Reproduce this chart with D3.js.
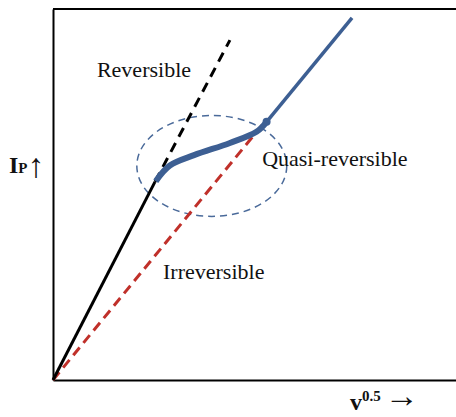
<!DOCTYPE html>
<html>
<head>
<meta charset="utf-8">
<script src="https://cdn.jsdelivr.net/npm/d3@7"></script>
<style>
  html, body { margin: 0; padding: 0; background: #fff; }
  svg { display: block; }
  text { font-family: "Liberation Serif", "Times New Roman", serif; fill: #111; }
  .arrow { font-weight: normal; }
</style>
</head>
<body>
<svg id="chart" width="456" height="417"></svg>
<script>
// Peak current vs. square root of scan rate, in arbitrary units
const reversibleSolid  = [[0, 0], [2.53, 5.34]];
const reversibleDashed = [[2.53, 5.34], [4.39, 9.16]];
const irreversible     = [[0, 0], [5.19, 6.87]];
const quasiCurve       = [[2.55, 5.36], [2.90, 5.78], [3.50, 6.06], [4.39, 6.39], [5.05, 6.69], [5.30, 6.96]];
const quasiLine        = [[5.30, 6.96], [7.42, 9.76]];
const quasiRegion      = { cx: 3.94, cy: 5.77, rx: 1.86, ry: 1.36 };
const regionLabels     = [
  { text: "Reversible",       x: 1.09, y: 8.17 },
  { text: "Quasi-reversible", x: 5.19, y: 5.77 },
  { text: "Irreversible",     x: 2.73, y: 2.72 }
];

const svg = d3.select("#chart");
const plotLeft = 53, plotRight = 456, plotTop = 9, plotBottom = 380;

const x = d3.scaleLinear().domain([0, 10]).range([plotLeft, plotRight]);
const y = d3.scaleLinear().domain([0, 10]).range([plotBottom, plotTop]);

const line = d3.line().x(d => x(d[0])).y(d => y(d[1]));
const smooth = d3.line().x(d => x(d[0])).y(d => y(d[1])).curve(d3.curveCatmullRom.alpha(0.5));

// Frame: left axis, bottom axis and top rule
const xAxis = d3.axisBottom(x).ticks(0).tickSize(0).tickSizeOuter(0);
const yAxis = d3.axisLeft(y).ticks(0).tickSize(0).tickSizeOuter(0);
svg.append("g").attr("transform", `translate(0,${plotBottom})`).call(xAxis)
  .select(".domain").attr("stroke", "#000").attr("stroke-width", 2);
svg.append("g").attr("transform", `translate(${plotLeft},0)`).call(yAxis)
  .select(".domain").attr("stroke", "#000").attr("stroke-width", 2);
svg.append("line")
  .attr("x1", plotLeft).attr("x2", plotRight).attr("y1", plotTop).attr("y2", plotTop)
  .attr("stroke", "#000").attr("stroke-width", 2);

// Quasi-reversible region outline
svg.append("ellipse")
  .attr("cx", x(quasiRegion.cx)).attr("cy", y(quasiRegion.cy))
  .attr("rx", x(quasiRegion.rx) - x(0)).attr("ry", y(0) - y(quasiRegion.ry))
  .attr("fill", "none").attr("stroke", "#4a6a9a").attr("stroke-width", 1.5)
  .attr("stroke-dasharray", "7,5");

// Irreversible line
svg.append("path").datum(irreversible).attr("d", line)
  .attr("fill", "none").attr("stroke", "#c0302a").attr("stroke-width", 3)
  .attr("stroke-dasharray", "10,6");

// Reversible lines
svg.append("path").datum(reversibleSolid).attr("d", line)
  .attr("fill", "none").attr("stroke", "#000").attr("stroke-width", 3);
svg.append("path").datum(reversibleDashed).attr("d", line)
  .attr("fill", "none").attr("stroke", "#000").attr("stroke-width", 3)
  .attr("stroke-dasharray", "10,7");

// Quasi-reversible curve and its continuation
svg.append("path").datum(quasiCurve).attr("d", smooth)
  .attr("fill", "none").attr("stroke", "#3d5f93").attr("stroke-width", 6)
  .attr("stroke-linecap", "butt");
svg.append("path").datum(quasiLine).attr("d", line)
  .attr("fill", "none").attr("stroke", "#3d5f93").attr("stroke-width", 3.5);
svg.append("circle")
  .attr("cx", x(quasiLine[0][0])).attr("cy", y(quasiLine[0][1])).attr("r", 4)
  .attr("fill", "#3d5f93");

// Region labels
svg.selectAll("text.region").data(regionLabels).enter().append("text")
  .attr("class", "region")
  .attr("x", d => x(d.x)).attr("y", d => y(d.y))
  .attr("font-size", 22)
  .text(d => d.text);

// Axis titles
const yTitle = svg.append("text").attr("x", 9).attr("y", 173).attr("font-size", 24).attr("font-weight", "bold");
yTitle.append("tspan").text("I");
yTitle.append("tspan").attr("font-size", 15).text("P");
yTitle.append("tspan").attr("class", "arrow").attr("font-size", 34).attr("dy", 4).text("↑");

const xTitle = svg.append("text").attr("x", 350).attr("y", 410).attr("font-size", 24).attr("font-weight", "bold");
xTitle.append("tspan").text("v");
xTitle.append("tspan").attr("font-size", 15).attr("dy", -9).text("0.5");
xTitle.append("tspan").attr("class", "arrow").attr("font-size", 34).attr("dy", 6).attr("dx", 4).text("→");
</script>
</body>
</html>
